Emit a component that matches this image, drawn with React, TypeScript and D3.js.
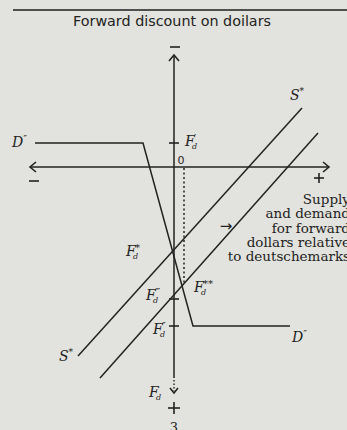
import React from "react";
import * as d3 from "d3";

// Diagram values in data units (x: quantity of forward dollars, y: forward discount, + downward)
const demandCurve: [number, number][] = [[-13.9, -2.4], [-3.1, -2.4], [1.9, 15.9], [11.6, 15.9]];
const supplyOld: [number, number][] = [[-9.6, 18.9], [12.8, -5.9]];
const supplyNew: [number, number][] = [[-7.4, 21.1], [14.4, -3.4]];
const dottedX = 1.0;
const dottedRange = [0.1, 11.6];
const axisXRange = [-14.4, 15.5];
const axisYRange = [-11.2, 21.1, 22.6];
const yTickValues = [-2.4, 13.2, 15.9];
const sideText = ["Supply", "and demand", "for forward", "dollars relative", "to deutschemarks"];
const title = "Forward discount on doilars";

const W = 347, H = 430;
const ink = "#222222";
const serif = "'DejaVu Serif', 'Liberation Serif', serif";
const sans = "'DejaVu Sans', 'Liberation Sans', sans-serif";

export default function App() {
  const x = d3.scaleLinear().domain([-14, 16]).range([34, 334]);
  const y = d3.scaleLinear().domain([-11.5, 23]).range([52, 397]);
  const line = d3.line<[number, number]>().x(d => x(d[0])).y(d => y(d[1]));
  const x0 = x(0), y0 = y(0);

  const F = (px: number, py: number, sup: string, key: string) => (
    <g key={key} fontFamily={serif} fill={ink} fontStyle="italic">
      <text x={px} y={py} fontSize={14}>F</text>
      {sup ? <text x={px + 9} y={py - 5} fontSize={10} fontStyle="normal">{sup}</text> : null}
      <text x={px + 7} y={py + 3} fontSize={8}>d</text>
    </g>
  );

  return (
    <svg width={W} height={H} style={{ position: "fixed", left: 0, top: 0, background: "#e2e3de" }}>
      <rect x={0} y={0} width={W} height={H} fill="#e2e3de" />
      <line x1={13} x2={W} y1={10} y2={10} stroke="#1e1e1e" strokeWidth={1.6} />
      <text x={172} y={26} textAnchor="middle" fontFamily={sans} fontSize={14.5} fill={ink} textLength={198} lengthAdjust="spacingAndGlyphs">{title}</text>

      {/* axes */}
      <g stroke={ink} strokeWidth={1.6} fill="none">
        <line x1={x(axisXRange[0])} x2={x(axisXRange[1])} y1={y0} y2={y0} />
        <path d={`M${x(axisXRange[0]) + 6},${y0 - 5} L${x(axisXRange[0])},${y0} L${x(axisXRange[0]) + 6},${y0 + 5}`} />
        <path d={`M${x(axisXRange[1]) - 6},${y0 - 5} L${x(axisXRange[1])},${y0} L${x(axisXRange[1]) - 6},${y0 + 5}`} />
        <line x1={x0} x2={x0} y1={y(axisYRange[0])} y2={y(axisYRange[1])} strokeWidth={1.5} />
        <line x1={x0} x2={x0} y1={y(axisYRange[1]) + 2} y2={y(axisYRange[2]) - 2} strokeWidth={1.4} strokeDasharray="1.5,2" />
        <path d={`M${x0 - 5},${y(axisYRange[0]) + 6} L${x0},${y(axisYRange[0])} L${x0 + 5},${y(axisYRange[0]) + 6}`} />
        <path d={`M${x0 - 4},${y(axisYRange[2]) - 5} L${x0},${y(axisYRange[2])} L${x0 + 4},${y(axisYRange[2]) - 5}`} />
        {yTickValues.map((v, i) => (
          <line key={i} x1={x0 - 5} x2={x0 + 5} y1={y(v)} y2={y(v)} />
        ))}
        <line x1={x0 - 4} x2={x0 + 6} y1={47} y2={47} />
        <line x1={29} x2={39} y1={181} y2={181} />
        <line x1={314} x2={324} y1={178} y2={178} />
        <line x1={319} x2={319} y1={173} y2={183} />
        <line x1={x0 - 6} x2={x0 + 6} y1={408} y2={408} />
        <line x1={x0} x2={x0} y1={402} y2={414} />
      </g>

      {/* curves */}
      <g stroke={ink} strokeWidth={1.5} fill="none">
        <path d={line(demandCurve) || ""} />
        <path d={line(supplyOld) || ""} />
        <path d={line(supplyNew) || ""} />
        <line x1={x(dottedX)} x2={x(dottedX)} y1={y(dottedRange[0])} y2={y(dottedRange[1])} strokeDasharray="2,2.5" strokeWidth={1.5} />
      </g>

      {/* labels */}
      <text x={181} y={164} fontFamily={sans} fontSize={11} fill={ink} textAnchor="middle">0</text>
      <text x={226} y={231} fontFamily={sans} fontSize={15} fill={ink} textAnchor="middle">→</text>
      <text x={174} y={432} fontFamily={serif} fontSize={13} fill={ink} textAnchor="middle">3</text>

      <text x={12} y={147} fontFamily={serif} fontStyle="italic" fontSize={14} fill={ink}>D<tspan fontSize={10} dy={-5} fontStyle="normal">″</tspan></text>
      <text x={292} y={342} fontFamily={serif} fontStyle="italic" fontSize={14} fill={ink}>D<tspan fontSize={10} dy={-5} fontStyle="normal">″</tspan></text>
      <text x={290} y={100} fontFamily={serif} fontStyle="italic" fontSize={14} fill={ink}>S<tspan fontSize={9} dy={-6} fontStyle="normal">*</tspan></text>
      <text x={59} y={361} fontFamily={serif} fontStyle="italic" fontSize={14} fill={ink}>S<tspan fontSize={9} dy={-6} fontStyle="normal">*</tspan></text>

      {F(185, 146, "′", "f1")}
      {F(126, 256, "*", "f2")}
      {F(194, 292, "**", "f3")}
      {F(146, 300, "‴", "f4")}
      {F(153, 334, "″", "f5")}
      {F(149, 397, "", "f6")}

      {sideText.map((t, i) => (
        <text key={i} x={350} y={204 + i * 14.3} textAnchor="end" fontFamily={serif} fontSize={13.5} fill={ink}>{t}</text>
      ))}
    </svg>
  );
}
